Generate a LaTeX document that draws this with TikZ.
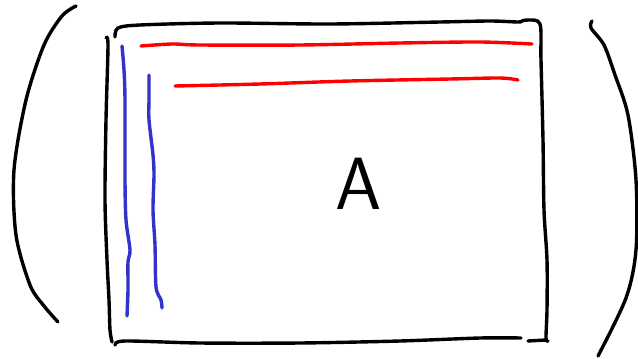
\documentclass[tikz,border=0pt]{standalone}
\usepackage{xcolor}
\usepackage{tikz}
\definecolor{rowred}{HTML}{FF0000}
\definecolor{colblue}{HTML}{3333CC}
\tikzset{
  pen/.style={line width=3.4pt, line cap=round, line join=round},
  inkpen/.style={pen, draw=black},
  rowpen/.style={pen, draw=rowred},
  colpen/.style={pen, draw=colblue},
  bigletter/.style={font=\fontsize{74}{74}\selectfont\sffamily, inner sep=0pt},
}

\begin{document}
\begin{tikzpicture}[x=1pt,y=-1pt]
\useasboundingbox (0,0) rectangle (638,359);

% parentheses
\draw[inkpen] plot[smooth] coordinates {(76,6) (62,16) (44,45) (26,100) (14,170) (16,235) (30,285) (44,306) (58,322)};
\draw[inkpen] plot[smooth] coordinates {(592,21) (591,28) (604,45) (615,75) (628,115) (636,180) (636,250) (626,298) (598,356)};

% the matrix box
\draw[inkpen] plot[smooth] coordinates {(106,38) (108,45) (106,120) (105,200) (107,260) (109,300) (110,330) (112,342)};
\draw[inkpen] plot[smooth] coordinates {(115,37) (118,28) (140,25) (220,23) (330,24) (440,22) (490,21) (518,22) (522,21) (528,20) (540,24) (541,60) (543,140) (544,210) (547,260) (547,310) (546,338) (548,341)};
\draw[inkpen] plot[smooth] coordinates {(115,345) (125,341) (200,343) (300,343) (400,341) (480,338) (521,338)};
\draw[inkpen] (528,341) -- (546,340);

% rows
\draw[rowpen] plot[smooth] coordinates {(141,46) (172,44) (200,45) (300,45) (400,43) (480,42) (532,44)};
\draw[rowpen] plot[smooth] coordinates {(175,86) (260,84) (350,81) (450,79) (500,78) (518,80)};

% columns
\draw[colpen] plot[smooth] coordinates {(122,46) (124,70) (125,100) (125,180) (126,220) (130,250) (128,262) (128,290) (127,316)};
\draw[colpen] plot[smooth] coordinates {(149,75) (149,100) (149,120) (153,155) (154,175) (153,210) (155,245) (156,287) (161,300) (162,308)};

% label
\node[bigletter] (lbl) at (359,184) {A};
\end{tikzpicture}
\end{document}
